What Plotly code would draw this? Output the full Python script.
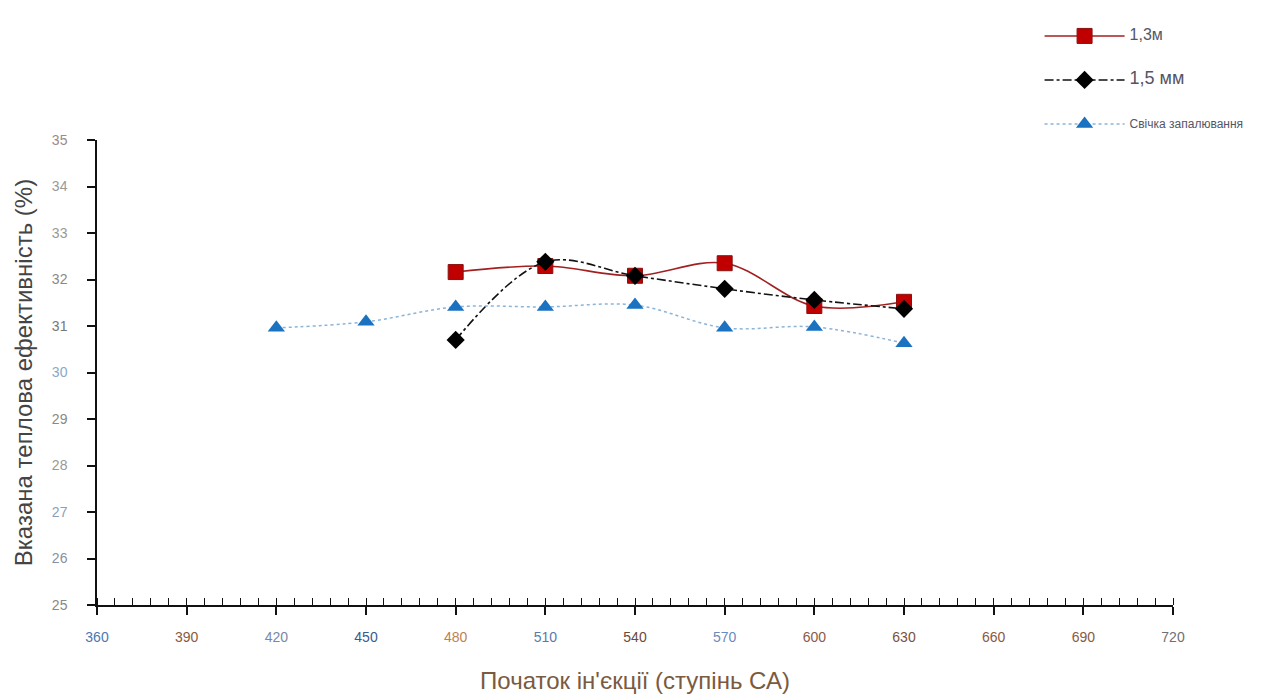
import plotly.graph_objects as go

# Data
x_red = [480, 510, 540, 570, 600, 630]
y_red = [32.16, 32.29, 32.08, 32.35, 31.43, 31.52]

x_black = [480, 510, 540, 570, 600, 630]
y_black = [30.70, 32.38, 32.08, 31.80, 31.56, 31.37]

x_blue = [420, 450, 480, 510, 540, 570, 600, 630]
y_blue = [30.96, 31.09, 31.41, 31.41, 31.45, 30.96, 30.98, 30.63]

x_tickvals = [360, 390, 420, 450, 480, 510, 540, 570, 600, 630, 660, 690, 720]
x_tickcolors = ["#4a78b0", "#8b5a3c", "#7a88a8", "#3a5a90", "#c08050", "#5a7aaa",
                "#6a4a3a", "#6a8ac0", "#8a5a4a", "#7a5040", "#8a5a40", "#8a5a40", "#707070"]
y_tickvals = [25, 26, 27, 28, 29, 30, 31, 32, 33, 34, 35]
y_tickcolors = ["#888888", "#8890a0", "#8aa0b8", "#999999", "#888888", "#8aa8c8",
                "#777777", "#888888", "#999999", "#999999", "#a08888"]

fig = go.Figure()

fig.add_trace(go.Scatter(
    x=x_red, y=y_red, mode="lines+markers", name='<span style="font-size:16px">1,3м</span>',
    line=dict(color="#a32020", width=1.6, shape="spline"),
    marker=dict(symbol="square", size=15, color="#c00000", line=dict(color="#8a1010", width=1)),
    legendgroup="a",
))
fig.add_trace(go.Scatter(
    x=x_black, y=y_black, mode="lines+markers", name='<span style="font-size:18px">1,5 мм</span>',
    line=dict(color="#111111", width=1.6, shape="spline", dash="dashdot"),
    marker=dict(symbol="diamond", size=14, color="#000000"),
    legendgroup="b",
))
fig.add_trace(go.Scatter(
    x=x_blue, y=y_blue, mode="lines+markers", name='<span style="font-size:12px">Свічка запалювання</span>',
    line=dict(color="#8ab4d8", width=1.5, shape="spline", dash="dot"),
    marker=dict(symbol="triangle-up", size=15, color="#1a72c0"),
    legendgroup="c",
))

fig.update_layout(
    width=1264, height=697,
    margin=dict(l=89, r=99, t=132, b=100),
    plot_bgcolor="white", paper_bgcolor="white",
    font=dict(family="Liberation Sans, Arial, sans-serif"),
    legend=dict(x=0.876, y=1.255, xanchor="left", yanchor="top",
                font=dict(size=10, color="#555566"), tracegroupgap=25,
                itemwidth=80, bgcolor="rgba(0,0,0,0)"),
    xaxis=dict(
        range=[360, 720], tickvals=x_tickvals,
        ticktext=[f'<span style="color:{c}">{v}</span>' for v, c in zip(x_tickvals, x_tickcolors)],
        showline=True, linecolor="#111111", linewidth=1.5,
        ticks="outside", ticklen=8, tickcolor="#111111", tickwidth=1.5,
        minor=dict(dtick=6, tick0=360, ticks="inside", ticklen=7, tickcolor="#111111", tickwidth=1.2),
        showgrid=False, zeroline=False,
        tickfont=dict(size=14), ticklabelstandoff=10,
        title=dict(text="Початок ін'єкції (ступінь СА)", font=dict(size=24, color="#7a5a40"), standoff=29),
    ),
    yaxis=dict(
        range=[25, 35], tickvals=y_tickvals,
        ticktext=[f'<span style="color:{c}">{v}</span>' for v, c in zip(y_tickvals, y_tickcolors)],
        showline=True, linecolor="#111111", linewidth=1.5,
        ticks="outside", ticklen=8, tickcolor="#111111", tickwidth=1.5,
        showgrid=False, zeroline=False,
        tickfont=dict(size=14), ticklabelstandoff=17,
        title=dict(text="Вказана теплова ефективність (%)", font=dict(size=24, color="#444444"), standoff=12),
    ),
)

fig.write_html("out.html")
